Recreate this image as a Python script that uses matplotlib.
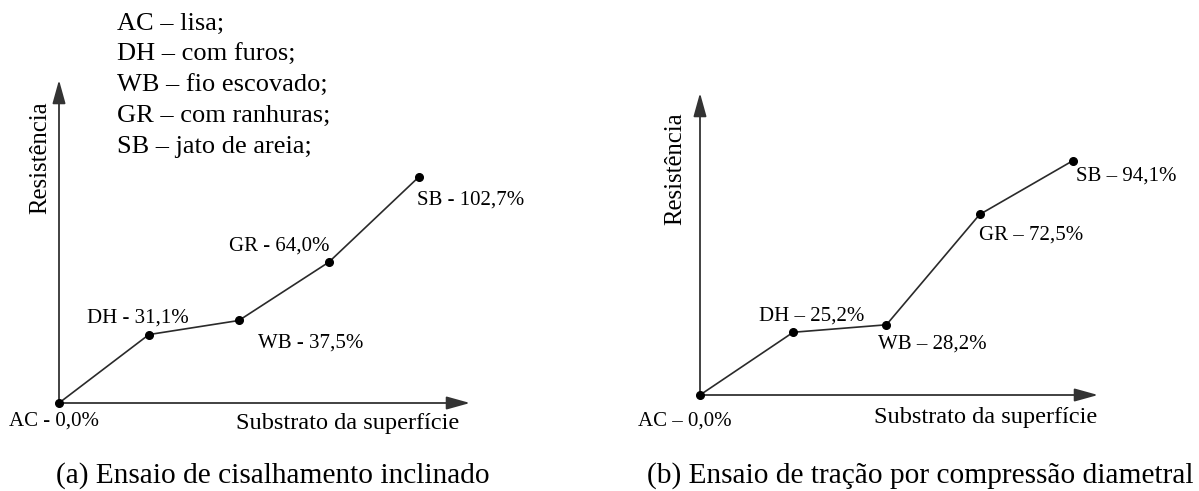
import matplotlib
matplotlib.use('Agg')
import matplotlib.pyplot as plt

plt.rcParams['font.family'] = ['Liberation Serif', 'DejaVu Serif']

# Data
categories = ['AC', 'DH', 'WB', 'GR', 'SB']
shear_values = [0.0, 31.1, 37.5, 64.0, 102.7]      # (a) cisalhamento inclinado
tension_values = [0.0, 25.2, 28.2, 72.5, 94.1]     # (b) tração por compressão diametral
legend_lines = ['AC – lisa;', 'DH – com furos;', 'WB – fio escovado;',
                'GR – com ranhuras;', 'SB – jato de areia;']
captions = ['(a) Ensaio de cisalhamento inclinado',
            '(b) Ensaio de tração por compressão diametral']
xlabel = 'Substrato da superfície'
ylabel = 'Resistência'

W, H = 1199, 491
fig = plt.figure(figsize=(W / 100, H / 100), dpi=100)


def fx(px):
    return px / W


def fy(py):
    return 1 - py / H


def fmt(v):
    return f'{v:.1f}'.replace('.', ',') + '%'


def panel(rect, xmax, ymax, values, sep, offsets):
    ax = fig.add_axes(rect)
    ax.set_xlim(0, xmax)
    ax.set_ylim(0, ymax)
    ax.axis('off')
    # arrows for axes
    for end in [(1, 0), (0, 1)]:
        ax.annotate('', xy=end, xytext=(0, 0), xycoords='axes fraction',
                    arrowprops=dict(arrowstyle='-|>,head_length=0.9,head_width=0.25',
                                    color='#333333', lw=1.3, mutation_scale=16,
                                    shrinkA=0, shrinkB=0))
    x = list(range(len(values)))
    ax.plot(x, values, '-', color='#2a2a2a', lw=1.2, clip_on=False)
    ax.plot(x, values, 'o', color='black', ms=5.5, clip_on=False, zorder=5)
    for xi, v, cat, off in zip(x, values, categories, offsets):
        ax.annotate(f'{cat} {sep} {fmt(v)}', xy=(xi, v), xytext=off,
                    textcoords='offset pixels', ha='center', va='center',
                    fontsize=15)
    return ax


# Panel (a)
offsets_a = [(-5, -18), (-11, 17), (72, -23), (-50, 16), (52, -23)]
panel([fx(59), fy(403), fx(470) - fx(59), (403 - 80) / H],
      4.57, 146.8, shear_values, '-', offsets_a)

# Panel (b)
offsets_b = [(-15, -26), (18, 16), (46, -19), (51, -21), (53, -15)]
panel([fx(700), fy(395), fx(1098) - fx(700), (395 - 93) / H],
      4.27, 121.3, tension_values, '–', offsets_b)

# Axis labels
fig.text(fx(40), fy(158), ylabel, rotation=90, ha='center', va='center', fontsize=17.8)
fig.text(fx(348), fy(423), xlabel, ha='center', va='center', fontsize=17.5)
fig.text(fx(675), fy(169), ylabel, rotation=90, ha='center', va='center', fontsize=17.8)
fig.text(fx(986), fy(417), xlabel, ha='center', va='center', fontsize=17.5)

# Legend block
for i, line in enumerate(legend_lines):
    fig.text(fx(117), fy(24 + 30.8 * i), line, ha='left', va='center', fontsize=19)

# Captions
fig.text(fx(273), fy(476), captions[0], ha='center', va='center', fontsize=21.2)
fig.text(fx(920), fy(476), captions[1], ha='center', va='center', fontsize=21.2)

fig.savefig('out.png', dpi=100, facecolor='white')
